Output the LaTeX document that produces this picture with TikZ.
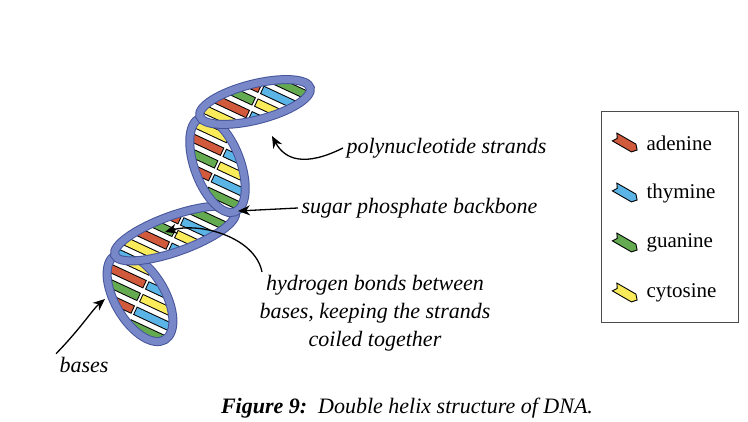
\documentclass[tikz,border=0pt]{standalone}
\usepackage{fontspec}
\setmainfont{Liberation Serif}
\usetikzlibrary{arrows.meta}
\definecolor{ade}{RGB}{209,90,60}
\definecolor{thy}{RGB}{90,180,230}
\definecolor{gua}{RGB}{100,170,80}
\definecolor{cyt}{RGB}{250,235,90}
\definecolor{bb}{RGB}{120,135,200}
\definecolor{bbd}{RGB}{70,85,155}
\tikzset{
  lbl/.style={font=\itshape\fontsize{22}{28}\selectfont},
  leg/.style={font=\fontsize{21}{24}\selectfont,anchor=west},
  arr/.style={-{Stealth[length=12pt,width=10pt]},line width=1.3pt},
  icon/.style={draw=black,line width=0.9pt},
}
\newcommand{\barpair}[2]{%
  \draw[line width=9pt,black] (-70,0)--(-1,0);
  \draw[line width=9pt,black] (1,0)--(70,0);
  \draw[line width=7pt,#1] (-70,0)--(-2,0);
  \draw[line width=7pt,#2] (2,0)--(70,0);}
\newcommand{\lobe}[4]{% center, rotation, rx, ry
  \begin{scope}
    \clip[shift={#1},rotate=#2] (0,0) ellipse [x radius=#3,y radius=#4];
    \fill[white] #1 circle (80);
    \begin{scope}[shift={#1},rotate=-25]
      \foreach \k/\a/\b in {-5/cyt/gua,-4/ade/thy,-3/thy/ade,-2/cyt/gua,-1/ade/thy,0/gua/cyt,1/ade/thy,2/cyt/gua,3/thy/ade,4/ade/thy,5/cyt/gua}
        {\begin{scope}[yshift=\k*14]\barpair{\a}{\b}\end{scope}}
    \end{scope}
  \end{scope}
  \draw[shift={#1},rotate=#2,bbd,line width=9pt] (0,0) ellipse [x radius=#3,y radius=#4];
  \draw[shift={#1},rotate=#2,bb,line width=7pt] (0,0) ellipse [x radius=#3,y radius=#4];}
\begin{document}
\begin{tikzpicture}[x=1pt,y=1pt]
\useasboundingbox (0,0) rectangle (748,422);
\fill[white] (0,0) rectangle (748,422);
\lobe{(140,124.5)}{120.5}{49}{25}
\lobe{(175,188.5)}{19.7}{64}{18}
\lobe{(217.5,257)}{110.4}{50}{23}
\lobe{(255,320)}{14.3}{57}{18}
% labels
\node[lbl,anchor=west] (poly) at (343,274) {polynucleotide strands};
\node[lbl,anchor=west] (sugar) at (298,214) {sugar phosphate backbone};
\node[lbl,align=center] (hyd) at (375,109) {hydrogen bonds between\\bases, keeping the strands\\coiled together};
\node[lbl] (bases) at (84,57) {bases};
\coordinate (tpoly) at (272,286);
\coordinate (tsug) at (238,211);
\coordinate (thyd) at (165,190);
\coordinate (tbas) at (105,123);
\draw[arr] (poly.west) .. controls (305,255) and (285,262) .. (tpoly);
\draw[arr] (sugar.west) -- (tsug);
\draw[arr] (262,150) .. controls (255,185) and (200,200) .. (thyd);
\draw[arr] (bases.north west) .. controls (82,95) and (92,112) .. (tbas);
% caption
\node[font=\fontsize{22}{26}\selectfont] (cap) at (407,14) {\textbf{\textit{Figure 9:}}\ \ \textit{Double helix structure of DNA.}};
% legend
\draw[line width=1pt,black!70] (601,99) rectangle (738,310);
\foreach \y/\c/\t in {279/ade/adenine,229/thy/thymine,179/gua/guanine,129/cyt/cytosine}{
  \begin{scope}[shift={(625,\y)},rotate=-30]
    \draw[icon,fill=\c] (-12,-4.5) -- (10,-4.5) -- (14,0) -- (10,4.5) -- (-12,4.5) -- (-9,0) -- cycle;
  \end{scope}
  \node[leg] at (643,\y) {\t};
}
\end{tikzpicture}
\end{document}
